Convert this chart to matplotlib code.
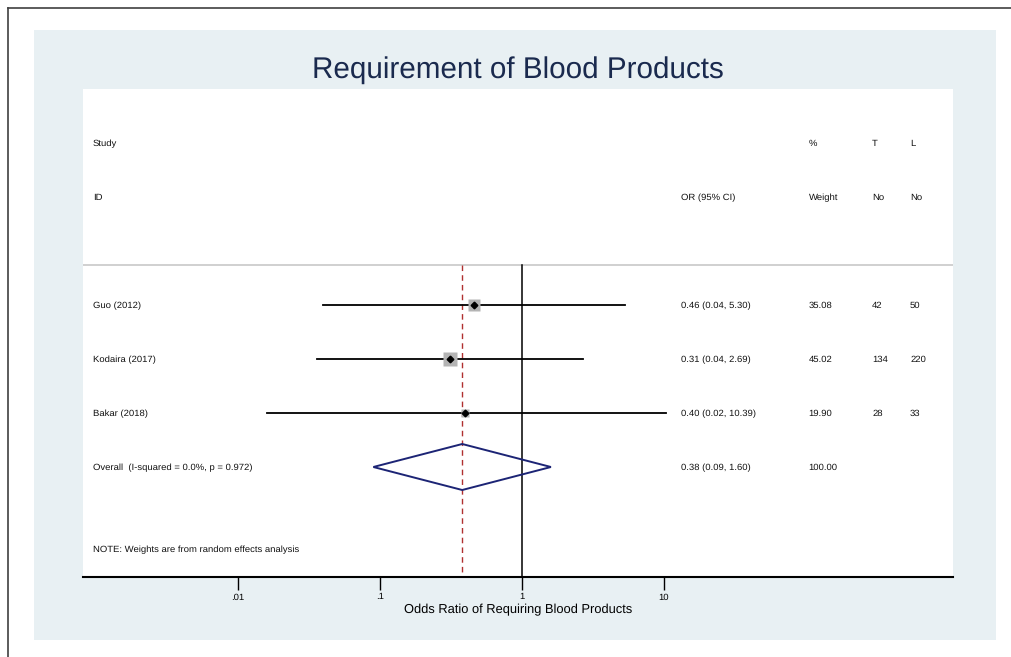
import matplotlib
matplotlib.use('Agg')
import matplotlib.pyplot as plt
from matplotlib.patches import Rectangle, Polygon
from matplotlib.lines import Line2D
import numpy as np

# forest plot data
studies = ['Guo (2012)', 'Kodaira (2017)', 'Bakar (2018)']
odds = [0.46, 0.31, 0.40]
ci_low = [0.040, 0.036, 0.016]   # as drawn (labels are rounded)
ci_high = [5.30, 2.69, 10.39]
or_labels = ['0.46 (0.04, 5.30)', '0.31 (0.04, 2.69)', '0.40 (0.02, 10.39)']
weights = [35.08, 45.02, 19.90]
t_no = ['42', '134', '28']
l_no = ['50', '220', '33']
overall_label = 'Overall  (I-squared = 0.0%, p = 0.972)'
overall = [0.38, 0.09, 1.60]
overall_text = '0.38 (0.09, 1.60)'
ticks = [0.01, 0.1, 1, 10]
tick_labels = ['.01', '.1', '1', '10']

W, H = 1011, 657
FONT = 'Liberation Sans'
plt.rcParams['font.family'] = [FONT, 'DejaVu Sans']
plt.rcParams['text.hinting'] = 'no_hinting'
plt.rcParams['text.hinting_factor'] = 8

def fx(px):
    return px / W

def fy(py):
    return 1 - py / H

fig = plt.figure(figsize=(W / 100, H / 100), dpi=100)
fig.patch.set_facecolor('white')

# outer frame (top and left only visible)
fig.add_artist(Line2D([fx(7.5), 1], [fy(7.5), fy(7.5)], color='#404040', lw=1.2))
fig.add_artist(Line2D([fx(7.5), fx(7.5)], [fy(7.5), 0], color='#404040', lw=1.2))

# light panel
fig.add_artist(Rectangle((fx(34), fy(640)), fx(996) - fx(34), fy(30) - fy(640),
                         transform=fig.transFigure, facecolor='#e8f0f3', edgecolor='none', zorder=0))

ax = fig.add_axes([fx(83), fy(577), fx(953) - fx(83), fy(89) - fy(577)])
ax.set_facecolor('white')
ax.set_xscale('log')
ax.set_xlim(10 ** -3.09, 10 ** 3.035)
ax.set_ylim(577, 89)  # rows in pixel-like units from top

row_y = [305.5, 359.5, 413.5]
overall_y = 467.5
sep_y = 265

tr = ax.get_yaxis_transform()
fs = 6.8
tc = '#111111'

def put(x, y, s):
    ax.text(x, y, s, transform=tr, fontsize=fs, va='center', color=tc)

# header
put(0.0115, 143.5, 'Study')
put(0.0115, 197.5, 'ID')
put(0.687, 197.5, 'OR (95% CI)')
put(0.834, 143.5, '%')
put(0.834, 197.5, 'Weight')
put(0.907, 143.5, 'T')
put(0.907, 197.5, 'No')
put(0.9506, 143.5, 'L')
put(0.9506, 197.5, 'No')

ax.axhline(sep_y, color='#c8c8c8', lw=1.2)

# reference lines
ax.plot([1, 1], [sep_y, 577], color='black', lw=1.1, zorder=2)
ax.plot([overall[0], overall[0]], [sep_y, 577], color='#b03030', lw=1.0,
        dashes=(4, 3), zorder=2)

for i in range(len(studies)):
    y = row_y[i] - 0.5
    ax.plot([ci_low[i], ci_high[i]], [y, y], color='black', lw=1.3, zorder=3)
    side = 1.95 * np.sqrt(weights[i]) / 1.389
    ax.plot(odds[i], y, marker='s', ms=side, color='#b4b4b4', mec='none', zorder=3)
    ax.plot(odds[i], y, marker='D', ms=3.4, color='black', zorder=4)
    put(0.0115, row_y[i], studies[i])
    put(0.687, row_y[i], or_labels[i])
    put(0.834, row_y[i], '%.2f' % weights[i])
    put(0.907, row_y[i], t_no[i])
    put(0.9506, row_y[i], l_no[i])

# overall diamond
dia = Polygon([[overall[1], overall_y - 0.5], [overall[0], overall_y - 23.5],
               [overall[2], overall_y - 0.5], [overall[0], overall_y + 22.5]],
              closed=True, fill=False, edgecolor='#1c2475', lw=1.4, zorder=4)
ax.add_patch(dia)
put(0.0115, overall_y, overall_label)
put(0.687, overall_y, overall_text)
put(0.834, overall_y, '100.00')

put(0.0115, 549.5, 'NOTE: Weights are from random effects analysis')

# axes styling
for s in ['top', 'left', 'right']:
    ax.spines[s].set_visible(False)
ax.spines['bottom'].set_linewidth(1.5)
ax.set_yticks([])
ax.set_xticks(ticks)
ax.set_xticklabels(tick_labels)
ax.minorticks_off()
ax.tick_params(axis='x', direction='out', length=9, width=1, labelsize=fs, pad=2.5)
ax.set_xlabel('Odds Ratio of Requiring Blood Products', fontsize=9.3, labelpad=1.5)

fig.text(fx(518), fy(70), 'Requirement of Blood Products', fontsize=21.3,
         color='#1a2a4e', ha='center', va='center')

fig.savefig('out.png', dpi=100)
